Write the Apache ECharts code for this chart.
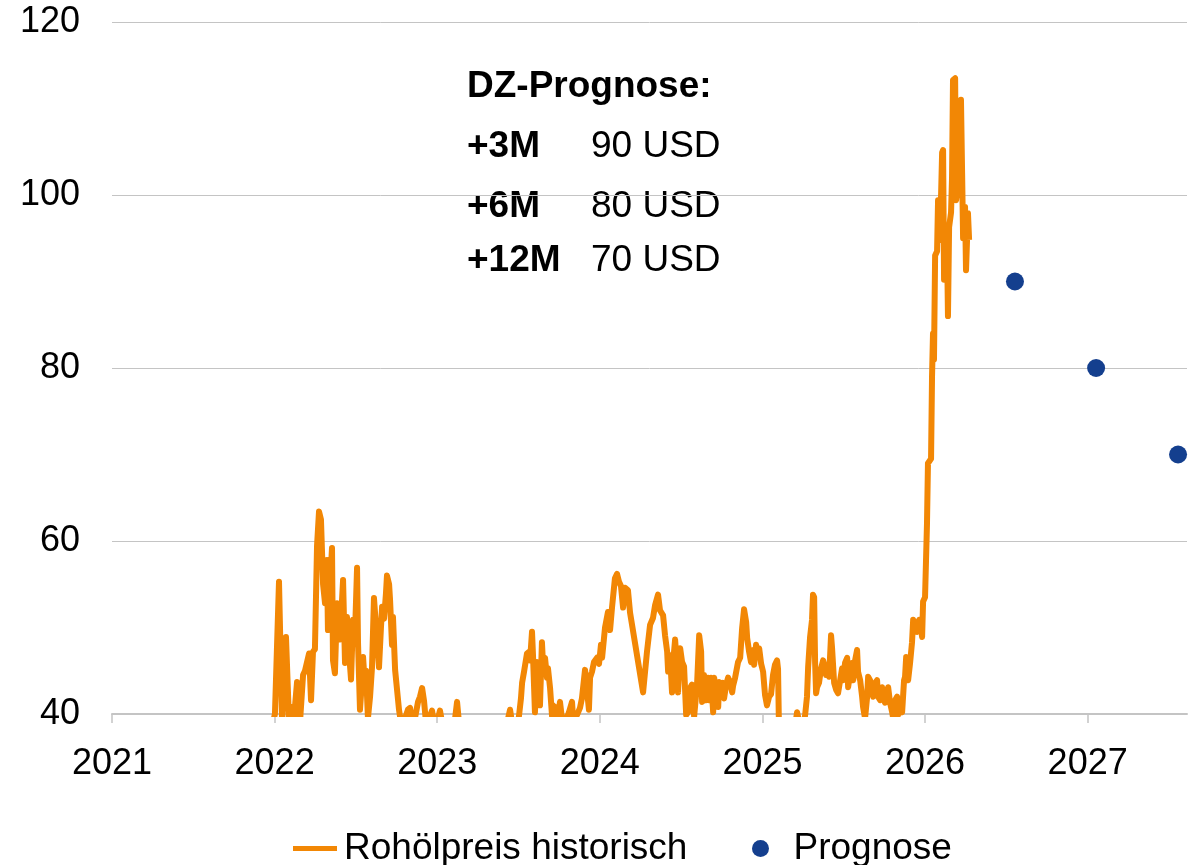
<!DOCTYPE html>
<html>
<head>
<meta charset="utf-8">
<title>Rohölpreis</title>
<script src="https://cdn.jsdelivr.net/npm/echarts@6/dist/echarts.min.js"></script>
<style>
  html, body { margin: 0; padding: 0; background: #fff; }
  #chart { width: 1200px; height: 865px; }
</style>
</head>
<body>
<div id="chart"></div>
<script>
// historic price, x as decimal year
const histYears = [
  2021.990, 2022.002, 2022.027, 2022.046, 2022.070, 2022.089, 2022.107, 2022.119, 2022.138, 2022.156,
  2022.175, 2022.187, 2022.199, 2022.212, 2022.224, 2022.236, 2022.248, 2022.261, 2022.273, 2022.285,
  2022.298, 2022.310, 2022.322, 2022.328, 2022.341, 2022.353, 2022.359, 2022.371, 2022.384, 2022.396,
  2022.402, 2022.421, 2022.433, 2022.445, 2022.458, 2022.470, 2022.482, 2022.494, 2022.507, 2022.513,
  2022.525, 2022.538, 2022.544, 2022.556, 2022.562, 2022.574, 2022.587, 2022.599, 2022.611, 2022.624,
  2022.630, 2022.642, 2022.654, 2022.661, 2022.673, 2022.685, 2022.691, 2022.704, 2022.710, 2022.722,
  2022.728, 2022.741, 2022.753, 2022.765, 2022.777, 2022.802, 2022.820, 2022.833, 2022.845, 2022.863,
  2022.882, 2022.894, 2022.907, 2022.919, 2022.931, 2022.956, 2022.968, 2022.980, 2023.005, 2023.017,
  2023.030, 2023.079, 2023.110, 2023.122, 2023.134, 2023.202, 2023.294, 2023.387,
  2023.436, 2023.448, 2023.460, 2023.491, 2023.503, 2023.515, 2023.522, 2023.534, 2023.552, 2023.565,
  2023.571, 2023.583, 2023.589, 2023.601, 2023.614, 2023.620, 2023.632, 2023.644, 2023.651, 2023.663,
  2023.675, 2023.681, 2023.694, 2023.706, 2023.712, 2023.724, 2023.737, 2023.743, 2023.755, 2023.767,
  2023.798, 2023.810, 2023.829, 2023.835, 2023.860, 2023.878, 2023.890, 2023.909, 2023.915, 2023.933,
  2023.940, 2023.952, 2023.964, 2023.983, 2023.995,
  2024.007, 2024.014, 2024.032, 2024.038, 2024.050, 2024.063, 2024.075, 2024.087, 2024.093, 2024.106,
  2024.118, 2024.130, 2024.143, 2024.155, 2024.173, 2024.186, 2024.266, 2024.290, 2024.309, 2024.327,
  2024.340, 2024.358, 2024.370, 2024.389, 2024.401, 2024.414, 2024.420, 2024.432, 2024.444, 2024.451,
  2024.463, 2024.475, 2024.481, 2024.494, 2024.506, 2024.518, 2024.531, 2024.543, 2024.555, 2024.567,
  2024.580, 2024.598, 2024.611, 2024.623, 2024.629, 2024.641, 2024.654, 2024.666, 2024.672, 2024.684,
  2024.697, 2024.703, 2024.715, 2024.728, 2024.734, 2024.746, 2024.758, 2024.764, 2024.777, 2024.789,
  2024.801, 2024.814, 2024.820, 2024.832, 2024.850, 2024.863, 2024.875, 2024.887, 2024.900, 2024.906,
  2024.918, 2024.930, 2024.943, 2024.949, 2024.961, 2024.967, 2024.980, 2024.992,
  2025.004, 2025.016, 2025.028, 2025.041, 2025.053, 2025.065, 2025.077, 2025.090, 2025.096, 2025.102,
  2025.139, 2025.200, 2025.213, 2025.225, 2025.250, 2025.262, 2025.274, 2025.281, 2025.293, 2025.305,
  2025.311, 2025.318, 2025.324, 2025.330, 2025.336, 2025.348, 2025.361, 2025.373, 2025.379, 2025.391,
  2025.398, 2025.410, 2025.422, 2025.428, 2025.441, 2025.453, 2025.465, 2025.478, 2025.490, 2025.496,
  2025.508, 2025.521, 2025.527, 2025.539, 2025.551, 2025.558, 2025.570, 2025.582, 2025.588, 2025.601,
  2025.613, 2025.619, 2025.631, 2025.644, 2025.650, 2025.662, 2025.674, 2025.681, 2025.693, 2025.705,
  2025.711, 2025.724, 2025.736, 2025.742, 2025.754, 2025.767, 2025.773, 2025.785, 2025.798, 2025.804,
  2025.816, 2025.828, 2025.834, 2025.847, 2025.859, 2025.871, 2025.877, 2025.884, 2025.890, 2025.896,
  2025.908, 2025.920, 2025.927, 2025.939, 2025.951, 2025.964, 2025.970, 2025.982, 2025.988,
  2026.000, 2026.012, 2026.018, 2026.037, 2026.043, 2026.049, 2026.055, 2026.062, 2026.074, 2026.080,
  2026.092, 2026.105, 2026.111, 2026.117, 2026.129, 2026.135, 2026.141, 2026.148, 2026.160, 2026.166,
  2026.172, 2026.185, 2026.191, 2026.203, 2026.209, 2026.221, 2026.228, 2026.234, 2026.246, 2026.252,
  2026.264, 2026.271
];
const histPrices = [
  39, 40, 55.3, 39, 48.9, 39, 40.8, 39.5, 43.7, 39,
  44.5, 45, 44.8, 47, 41.6, 47.2, 47.5, 59.5, 63.4, 62.5,
  55, 52.8, 57.8, 49.7, 55, 59.2, 46.2, 44.7, 52.8, 53,
  48.6, 55.5, 45.9, 51.2, 47, 44, 50.9, 49, 56.9, 48.2,
  40.5, 44, 46.6, 43.1, 45, 39.5, 42, 45.4, 53.4, 50,
  48.6, 45.4, 50, 52.4, 51, 54, 56, 55, 53.2, 48,
  51.2, 45.1, 42.8, 40.5, 39, 39.5, 40.5, 40.7, 39, 39.5,
  41.4, 42, 43, 41.5, 39, 39.8, 40.4, 39, 39.5, 40.4,
  39, 38, 39.5, 41.4, 39, 37, 36, 37.5,
  39.5, 40.5, 39, 38.5, 39.8, 41.8, 43.6, 44.9, 47, 47.2,
  46.2, 49.5, 46.8, 40.2, 46, 45.5, 41, 48.3, 45.7, 46.5,
  44.2, 45.3, 43, 39.8, 41, 39.6, 40.8, 39.8, 41.4, 39.5,
  39.6, 40.2, 41.4, 39.7, 39.9, 40.7, 41.8, 45.1, 44, 40.5,
  44.2, 44.9, 46, 46.5, 45.8,
  48, 46.5, 50, 49.8, 51.8, 49.7, 52.3, 52.5, 55.7, 56.2,
  55.3, 54.8, 52.3, 54.6, 54.3, 51.7, 42.5, 47.2, 50.3, 51.1,
  52.6, 53.8, 52, 51.4, 49.1, 47.2, 44.9, 46.8, 42.5, 46,
  48.6, 45.3, 42.5, 47.6, 46, 45.5, 39.9, 40.2, 43, 43.4,
  39.7, 43.4, 49.1, 47.2, 41.4, 44.5, 41.6, 44.2, 41.6, 44.2,
  40.2, 44.2, 42.5, 40.8, 43.7, 42.5, 43.6, 41.8, 43.4, 44.2,
  43.7, 42.5, 43.3, 44.2, 46, 46.5, 49.9, 52.1, 50.6, 48.8,
  47.2, 46, 47.4, 45.7, 48, 46.8, 47.6, 45.8,
  44.9, 42.2, 41, 42, 42.3, 44.5, 45.7, 46.2, 45.2, 38,
  36.5, 38.5, 40.2, 39.2, 38.5, 39.8, 42, 45.4, 48.9, 50.9,
  53.8, 53.5, 45.9, 42.4, 43.1, 43.6, 45.3, 46.2, 45.8, 44.5,
  45.3, 44.3, 49.1, 47.7, 43.6, 42.8, 42.4, 43.9, 45.3, 43.9,
  45.9, 46.5, 43.1, 44.7, 45.9, 43.9, 46.2, 47.4, 44.9, 43.9,
  42, 40.8, 39.5, 42, 44.3, 43.9, 42.8, 42, 43.6, 43.9,
  42, 41.6, 43.1, 42, 41.3, 42.4, 43.1, 41.3, 40.2, 39.5,
  41.6, 42, 39.9, 40.7, 40.2, 43.9, 44.3, 46.6, 46.6, 43.9,
  45.9, 48.3, 50.9, 50.9, 49.5, 50.9, 50.5, 48.9, 53,
  53.5, 62, 69, 69.5, 79, 84, 81, 93, 93.5, 99.4,
  94.8, 104.9, 105.2, 90.2, 92, 94.8, 86, 96.3, 98, 102,
  113.3, 113.5, 99.4, 99.5, 102, 111, 102.5, 95, 98.6, 91.3,
  97.9, 94.8
];

// DZ forecast points (+3M, +6M, +12M)
const forecastYears = [2026.553, 2027.052, 2027.556];
const forecastPrices = [90, 80, 70];

const forecastLabels = ['+3M', '+6M', '+12M'];

const orange = '#f28705';
const navy = '#143f8e';
const grey = '#c4c4c4';
const font = 'Arial, "Liberation Sans", sans-serif';

const chart = echarts.init(document.getElementById('chart'));

const annot = [{
  type: 'text', left: 467, top: 68,
  style: { text: 'DZ-Prognose:', font: 'bold 37px ' + font, fill: '#000' }
}];
forecastLabels.forEach((lab, i) => {
  const top = [128, 188, 242][i];
  annot.push({ type: 'text', left: 467, top: top, style: { text: lab, font: 'bold 37px ' + font, fill: '#000' } });
  annot.push({ type: 'text', left: 591, top: top, style: { text: forecastPrices[i] + ' USD', font: '37px ' + font, fill: '#000' } });
});

const option = {
  animation: false,
  textStyle: { fontFamily: font },
  grid: { left: 112, right: 13, top: 22, bottom: 151 },
  xAxis: {
    type: 'value',
    min: 2021,
    max: 2027.611,
    interval: 1,
    axisLine: { show: true, onZero: false, lineStyle: { color: grey, width: 2 } },
    axisTick: { show: true, length: 9, lineStyle: { color: grey, width: 1.5 } },
    splitLine: { show: false },
    axisLabel: {
      color: '#000', fontSize: 36, margin: 32,
      showMaxLabel: false,
      formatter: v => String(Math.round(v))
    }
  },
  yAxis: {
    type: 'value',
    min: 40,
    max: 120,
    interval: 20,
    axisLine: { show: false },
    axisTick: { show: false },
    splitLine: { lineStyle: { color: grey, width: 1 } },
    axisLabel: { color: '#000', fontSize: 36, margin: 32 }
  },
  legend: [{
    data: ['Rohölpreis historisch'],
    left: 288, top: 825,
    icon: 'rect', itemWidth: 44, itemHeight: 5,
    textStyle: { fontSize: 37, color: '#000', padding: [0, 0, 0, 2] }
  }, {
    data: ['Prognose'],
    left: 747, top: 825,
    icon: 'circle', itemWidth: 56, itemHeight: 17,
    itemStyle: { opacity: 1 },
    textStyle: { fontSize: 37, color: '#000' }
  }],
  series: [{
    name: 'Rohölpreis historisch',
    type: 'line',
    data: histYears.map((x, i) => [x, histPrices[i]]),
    showSymbol: false,
    symbol: 'none',
    lineStyle: { color: orange, width: 6, join: 'round' },
    itemStyle: { color: orange },
    clip: true
  }, {
    name: 'Prognose',
    type: 'scatter',
    data: forecastYears.map((x, i) => [x, forecastPrices[i]]),
    symbolSize: 18,
    itemStyle: { color: navy, opacity: 1 },
    clip: false
  }],
  graphic: annot
};

chart.setOption(option);
</script>
</body>
</html>
